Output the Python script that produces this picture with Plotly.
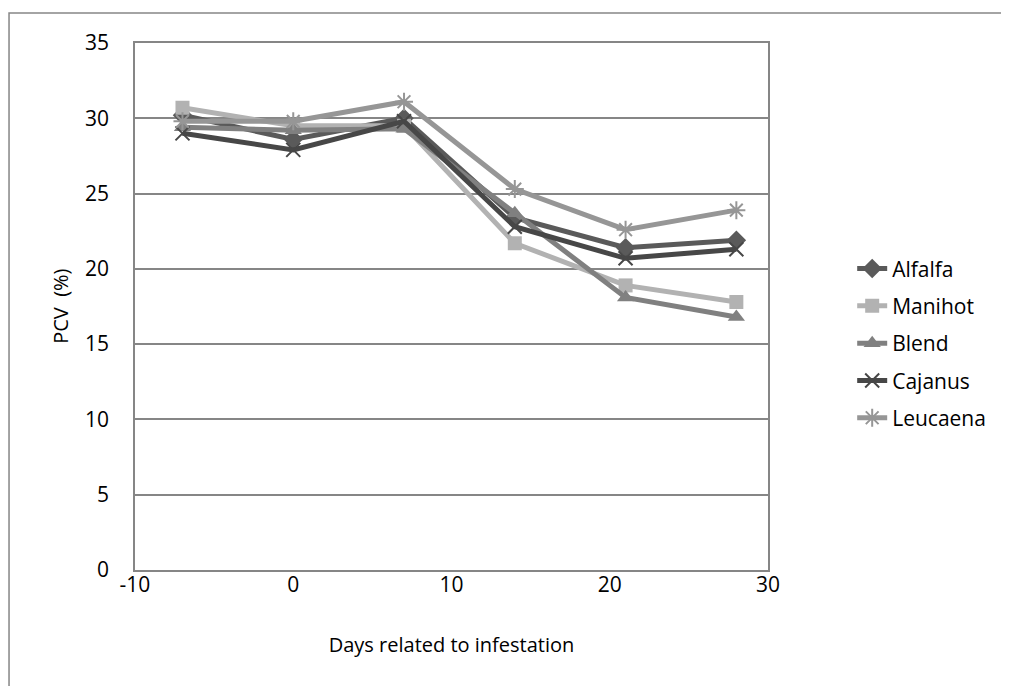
import plotly.graph_objects as go

days = [-7, 0, 7, 14, 21, 28]

alfalfa = [30.2, 28.6, 30.0, 23.4, 21.4, 21.9]
manihot = [30.7, 29.5, 29.5, 21.7, 18.9, 17.8]
blend = [29.4, 29.2, 29.3, 23.7, 18.1, 16.8]
cajanus = [29.0, 27.9, 29.8, 22.8, 20.7, 21.3]
leucaena = [29.8, 29.8, 31.1, 25.3, 22.6, 23.9]

x_ticks = [-10, 0, 10, 20, 30]
x_tick_labels = ["-10", "0", "10", "20", "30"]

series = [
    ("Alfalfa", alfalfa, "#5a5a5a", "diamond", 15),
    ("Manihot", manihot, "#b2b2b2", "square", 14),
    ("Blend", blend, "#808080", "triangle-up", 15),
    ("Cajanus", cajanus, "#474747", "x-thin-open", 14),
    ("Leucaena", leucaena, "#969696", "asterisk-open", 15),
]

font = "Open Sans, Noto Sans, sans-serif"

fig = go.Figure()
for name, values, color, symbol, size in series:
    marker = {"symbol": symbol, "size": size, "color": color}
    if symbol.endswith("open"):
        marker["line"] = {"color": color, "width": 2}
    fig.add_trace(
        go.Scatter(
            x=days,
            y=values,
            name=name,
            legendgroup=name,
            mode="lines+markers",
            line={"color": color, "width": 5},
            marker=marker,
        )
    )

axis_common = {
    "showline": True,
    "linecolor": "#868686",
    "linewidth": 1.5,
    "mirror": True,
    "ticks": "",
    "zeroline": False,
    "tickfont": {"size": 21, "color": "black", "family": font},
}

# page body has an 8px margin, so the plot area is placed 8px up/left
fig.update_layout(
    width=1009,
    height=686,
    margin={"l": 127, "r": 249, "t": 35, "b": 124},
    paper_bgcolor="white",
    plot_bgcolor="white",
    font={"family": font, "color": "black"},
    xaxis={
        **axis_common,
        "range": [-10, 30],
        "tickvals": x_ticks,
        "ticktext": x_tick_labels,
        "showgrid": False,
        "ticklabelstandoff": -5,
        "title": {"text": "Days related to infestation", "font": {"size": 20}, "standoff": 41},
    },
    yaxis={
        **axis_common,
        "range": [0, 35],
        "dtick": 5,
        "showgrid": True,
        "gridcolor": "#868686",
        "gridwidth": 1.5,
        "ticklabelstandoff": 20,
    },
    annotations=[
        {
            "text": "PCV  (%)",
            "xref": "paper",
            "yref": "paper",
            "x": -0.118,
            "y": 0.5,
            "xanchor": "center",
            "yanchor": "middle",
            "textangle": -90,
            "showarrow": False,
            "font": {"size": 20},
        }
    ],
    legend={
        "x": 1.133,
        "y": 0.43,
        "xanchor": "left",
        "yanchor": "middle",
        "font": {"size": 21, "color": "black"},
        "tracegroupgap": 7,
        "bgcolor": "rgba(0,0,0,0)",
    },
    shapes=[
        {
            "type": "rect",
            "xref": "paper",
            "yref": "paper",
            "x0": -0.199,
            "x1": 2.0,
            "y0": -1.0,
            "y1": 1.0569,
            "line": {"color": "#868686", "width": 1.5},
            "layer": "below",
        }
    ],
)

fig.write_html("out.html")
